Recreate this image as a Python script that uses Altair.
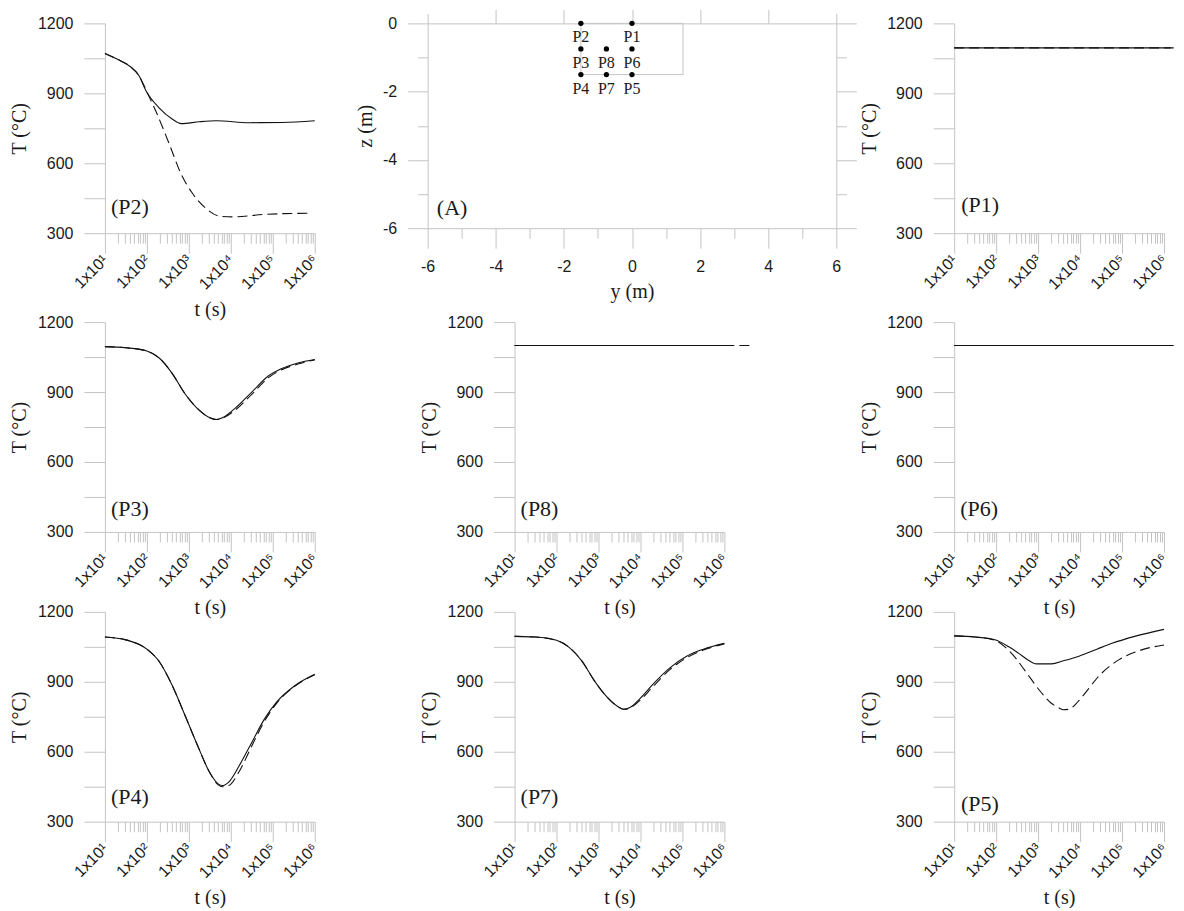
import altair as alt
import pandas as pd

# ---------------- data ----------------
# time axis ticks
x_major_ticks = [10, 100, 1000, 10000, 100000, 1000000]
x_major_labels = ["1x10\u00b9", "1x10\u00b2", "1x10\u00b3", "1x10\u2074", "1x10\u2075", "1x10\u2076"]
y_ticks = [300, 450, 600, 750, 900, 1050, 1200]

# P2
P2_solid_t = [10, 19.5, 40, 65, 95, 195, 400, 660, 1780, 4470, 27500, 170000, 1000000]
P2_solid_T = [1071, 1047, 1015, 975, 911, 838, 790, 770, 778, 782, 774, 775, 782]
P2_dash_t = [10, 19.5, 40, 65, 82, 110, 162, 339, 645, 1230, 2570, 5370, 10960, 69000, 851000]
P2_dash_T = [1071, 1047, 1015, 975, 940, 890, 825, 684, 556, 470, 406, 373, 370, 381, 386]
# P1
P1_solid_t = [10, 1450000]
P1_solid_T = [1095, 1095]
P1_dash_t = [10, 1700000]
P1_dash_T = [1095, 1095]
# P3
P3_solid_t = [10, 31.6, 100, 200, 400, 794, 1585, 3162, 4467, 6310, 12590, 31620, 79430, 158500, 398100, 1000000]
P3_solid_T = [1095, 1090, 1076, 1045, 980, 895, 830, 790, 782, 790, 830, 900, 970, 1000, 1025, 1040]
P3_dash_t = P3_solid_t
P3_dash_T = [1095, 1090, 1076, 1045, 980, 895, 830, 790, 782, 788, 822, 890, 962, 995, 1020, 1038]
# P8
P8_solid_t = [10, 1300000]
P8_solid_T = [1100, 1100]
P8_dash_t = [10, 4000000]
P8_dash_T = [1100, 1100]
# P6
P6_solid_t = [10, 1450000]
P6_solid_T = [1100, 1100]
P6_dash_t = [10, 1700000]
P6_dash_T = [1100, 1100]
# P4
P4_solid_t = [10, 31.6, 100, 200, 400, 794, 1585, 3162, 5012, 6310, 8913, 15850, 31620, 63100, 125900, 316200, 1000000]
P4_solid_T = [1092, 1080, 1040, 985, 885, 760, 630, 510, 462, 455, 470, 540, 640, 740, 815, 880, 932]
P4_dash_t = P4_solid_t
P4_dash_T = [1092, 1080, 1040, 985, 885, 760, 630, 510, 458, 450, 455, 515, 625, 730, 810, 878, 930]
# P7
P7_solid_t = [10, 31.6, 100, 200, 400, 794, 1585, 2818, 3981, 5623, 10000, 19950, 50120, 125900, 316200, 1000000]
P7_solid_T = [1095, 1092, 1078, 1048, 990, 905, 835, 795, 782, 790, 830, 890, 960, 1010, 1040, 1065]
P7_dash_t = P7_solid_t
P7_dash_T = [1095, 1092, 1078, 1048, 990, 905, 835, 795, 782, 788, 822, 880, 952, 1003, 1036, 1062]
# P5
P5_solid_t = [10, 31.6, 93.3, 200, 339, 562, 912, 2089, 3981, 9120, 25120, 57540, 199500, 1000000]
P5_solid_T = [1097, 1092, 1080, 1050, 1023, 995, 977, 977, 990, 1009, 1040, 1065, 1095, 1125]
P5_dash_t = [10, 31.6, 93.3, 158.5, 281.8, 467.7, 1202, 1995, 3090, 3981, 5370, 9120, 15850, 27540, 83180, 295100, 1000000]
P5_dash_T = [1097, 1092, 1078, 1051, 1005, 952, 853, 810, 789, 780, 782, 817, 870, 923, 994, 1037, 1058]

# panel tag positions (t, T)
tag_t = {"P2": 13.9, "P1": 14.7, "P3": 13.9, "P8": 13.9, "P6": 13.9, "P4": 13.9, "P7": 13.9, "P5": 14.5}
tag_T = {"P2": 411, "P1": 420, "P3": 400, "P8": 400, "P6": 400, "P4": 405, "P7": 405, "P5": 375}

# cross-section (A)
pt_names = ["P2", "P1", "P3", "P8", "P6", "P4", "P7", "P5"]
pt_y = [-1.5, 0, -1.5, -0.75, 0, -1.5, -0.75, 0]
pt_z = [0, 0, -0.75, -0.75, -0.75, -1.5, -1.5, -1.5]
zone_y = [-1.5, 1.5]
zone_z = [-1.5, 0]
a_tag_y = [-5.73]
a_tag_z = [-5.41]
a_y_ticks = [-6, -5, -4, -3, -2, -1, 0, 1, 2, 3, 4, 5, 6]
a_z_ticks = [-6, -5, -4, -3, -2, -1, 0]
a_top_ticks = [-6, -4, -2, 0, 2, 4, 6]

curves = {
    "P2": (P2_solid_t, P2_solid_T, P2_dash_t, P2_dash_T),
    "P1": (P1_solid_t, P1_solid_T, P1_dash_t, P1_dash_T),
    "P3": (P3_solid_t, P3_solid_T, P3_dash_t, P3_dash_T),
    "P8": (P8_solid_t, P8_solid_T, P8_dash_t, P8_dash_T),
    "P6": (P6_solid_t, P6_solid_T, P6_dash_t, P6_dash_T),
    "P4": (P4_solid_t, P4_solid_T, P4_dash_t, P4_dash_T),
    "P7": (P7_solid_t, P7_solid_T, P7_dash_t, P7_dash_T),
    "P5": (P5_solid_t, P5_solid_T, P5_dash_t, P5_dash_T),
}

# ---------------- styling ----------------
AX = "#c4c4c4"
TXT = "#1a1a1a"
SANS = "Liberation Sans"
SERIF = "Liberation Serif"
TW, TH = 210, 210
AW, AH = 409, 205

x_tick_values = [k * d for d in x_major_ticks[:-1] for k in range(1, 10)] + [x_major_ticks[-1]]
x_major_list = "[" + ",".join(str(v) for v in x_major_ticks) + "]"
x_major_test = "indexof(" + x_major_list + ", datum.value) >= 0"
x_label_expr = ""
for v, lab in zip(x_major_ticks, x_major_labels):
    x_label_expr += "datum.value == %d ? '%s' : " % (v, lab)
x_label_expr += "''"

x_scale = alt.Scale(type="log", domain=[10, 1000000], nice=False)
y_scale = alt.Scale(domain=[300, 1200], nice=False, zero=False)


def x_axis(with_title):
    kw = dict(
        values=x_tick_values,
        labelExpr=x_label_expr,
        tickSize={"condition": {"test": x_major_test, "value": 20}, "value": 10},
        labelAngle=315,
        labelAlign="right",
        labelBaseline="middle",
        labelPadding=4,
        labelFont=SANS,
        labelFontSize=16,
        labelColor=TXT,
        labelOverlap=False,
        labelFlush=False,
        domainColor=AX,
        tickColor=AX,
        grid=False,
        titleFont=SERIF,
        titleFontSize=20,
        titleFontWeight="normal",
        titleColor=TXT,
        titleY=76,
        titleBaseline="middle",
    )
    kw["title"] = "t (s)" if with_title else None
    return alt.Axis(**kw)


def y_axis():
    return alt.Axis(
        values=y_ticks,
        format="d",
        labelExpr="datum.value % 300 == 0 ? datum.label : ''",
        tickSize=21,
        labelPadding=11,
        labelFont=SANS,
        labelFontSize=16,
        labelColor=TXT,
        labelOverlap=False,
        labelFlush=False,
        domainColor=AX,
        tickColor=AX,
        grid=False,
        title="T (\u00b0C)",
        titleFont=SERIF,
        titleFontSize=20,
        titleFontWeight="normal",
        titleColor=TXT,
        titleX=-85,
        titleBaseline="middle",
    )


def time_panel(key, with_title=True):
    st, sT, dt, dT = curves[key]
    solid = pd.DataFrame({"t": st, "T": sT})
    dashed = pd.DataFrame({"t": dt, "T": dT})
    tag = pd.DataFrame({"t": [tag_t[key]], "T": [tag_T[key]], "txt": ["(" + key + ")"]})
    X = alt.X("t:Q", scale=x_scale, axis=x_axis(with_title))
    Y = alt.Y("T:Q", scale=y_scale, axis=y_axis())
    dl = alt.Chart(dashed).mark_line(color="#111111", strokeWidth=1.1, strokeDash=[10, 5],
                                     interpolate="monotone").encode(x=X, y=Y)
    sl = alt.Chart(solid).mark_line(color="#111111", strokeWidth=1.1,
                                    interpolate="monotone").encode(x=X, y=Y)
    tl = alt.Chart(tag).mark_text(font=SERIF, fontSize=22, align="left", baseline="middle",
                                  color=TXT).encode(x=X, y=Y, text="txt:N")
    return alt.layer(dl, sl, tl).properties(width=TW, height=TH)


# ---------------- panel A ----------------
ya_scale = alt.Scale(domain=[-6, 6], nice=False, zero=False)
za_scale = alt.Scale(domain=[-6, 0], nice=False, zero=False)
even_test = "datum.value % 2 == 0"
even_label = "datum.value % 2 == 0 ? '' + datum.value : ''"

common_ax = dict(domainColor=AX, tickColor=AX, grid=False, labelFont=SANS, labelFontSize=16,
                 labelColor=TXT, labelOverlap=False, labelFlush=False,
                 titleFont=SERIF, titleFontSize=20, titleFontWeight="normal", titleColor=TXT)

bottom_axis = alt.Axis(values=a_y_ticks, labelExpr=even_label,
                       tickSize={"condition": {"test": even_test, "value": 20}, "value": 10},
                       labelPadding=10, title="y (m)", titleY=63, titleBaseline="middle", **common_ax)
left_axis = alt.Axis(values=a_z_ticks, labelExpr=even_label,
                     tickSize={"condition": {"test": even_test, "value": 20}, "value": 10},
                     labelPadding=11, title="z (m)", titleX=-62, titleBaseline="middle", **common_ax)
top_axis = alt.Axis(values=a_top_ticks, orient="top", labels=False, title=None,
                    tickSize={"condition": {"test": "abs(datum.value) == 6", "value": 10}, "value": 14},
                    domainColor=AX, tickColor=AX, grid=False)
right_axis = alt.Axis(values=a_z_ticks, orient="right", labels=False, title=None,
                      tickSize={"condition": {"test": even_test, "value": 20}, "value": 10},
                      domainColor=AX, tickColor=AX, grid=False)

zone_df = pd.DataFrame({"y0": [zone_y[0]], "y1": [zone_y[1]], "z0": [zone_z[0]], "z1": [zone_z[1]]})
pts_df = pd.DataFrame({"y": pt_y, "z": pt_z, "name": pt_names})
atag_df = pd.DataFrame({"y": a_tag_y, "z": a_tag_z, "txt": ["(A)"]})

rect = alt.Chart(zone_df).mark_rect(fill="white", fillOpacity=0, stroke=AX, strokeWidth=1).encode(
    x=alt.X("y0:Q", scale=ya_scale, axis=bottom_axis), x2="y1:Q",
    y=alt.Y("z0:Q", scale=za_scale, axis=left_axis), y2="z1:Q")
pts = alt.Chart(pts_df).mark_circle(size=28, color="black", opacity=1).encode(
    x=alt.X("y:Q", scale=ya_scale, axis=top_axis),
    y=alt.Y("z:Q", scale=za_scale, axis=right_axis))
ptxt = alt.Chart(pts_df).mark_text(dy=14, font=SERIF, fontSize=16, color=TXT, baseline="middle",
                                   align="center").encode(
    x=alt.X("y:Q", scale=ya_scale, axis=None), y=alt.Y("z:Q", scale=za_scale, axis=None), text="name:N")
atxt = alt.Chart(atag_df).mark_text(font=SERIF, fontSize=22, color=TXT, baseline="middle",
                                    align="left").encode(
    x=alt.X("y:Q", scale=ya_scale, axis=None), y=alt.Y("z:Q", scale=za_scale, axis=None), text="txt:N")

panel_a = alt.layer(rect, pts, ptxt, atxt).resolve_axis(x="independent", y="independent").properties(
    width=AW, height=AH)


# ---------------- layout ----------------
def gap(w):
    # invisible layout spacer between panels
    return alt.Chart(pd.DataFrame({"g": [0]})).mark_point(opacity=0).encode(
        x=alt.X("g:Q", axis=None), y=alt.Y("g:Q", axis=None)).properties(width=w, height=10)


row1 = alt.HConcatChart(hconcat=[time_panel("P2"), gap(113), panel_a, gap(118),
                                 time_panel("P1", with_title=False)], spacing=0, bounds="flush")
row2 = alt.HConcatChart(hconcat=[time_panel("P3"), gap(200), time_panel("P8"), gap(230),
                                 time_panel("P6")], spacing=0, bounds="flush")
row3 = alt.HConcatChart(hconcat=[time_panel("P4"), gap(200), time_panel("P7"), gap(230),
                                 time_panel("P5")], spacing=0, bounds="flush")

lower = alt.VConcatChart(vconcat=[row2, row3], spacing=290, bounds="flush")
chart = alt.VConcatChart(vconcat=[row1, lower], spacing=299, bounds="flush").properties(
    padding={"left": 2, "top": 0, "right": 0, "bottom": 0}
).configure_view(strokeOpacity=0)

chart.save("out.html", embed_options={"renderer": "svg", "actions": False})
